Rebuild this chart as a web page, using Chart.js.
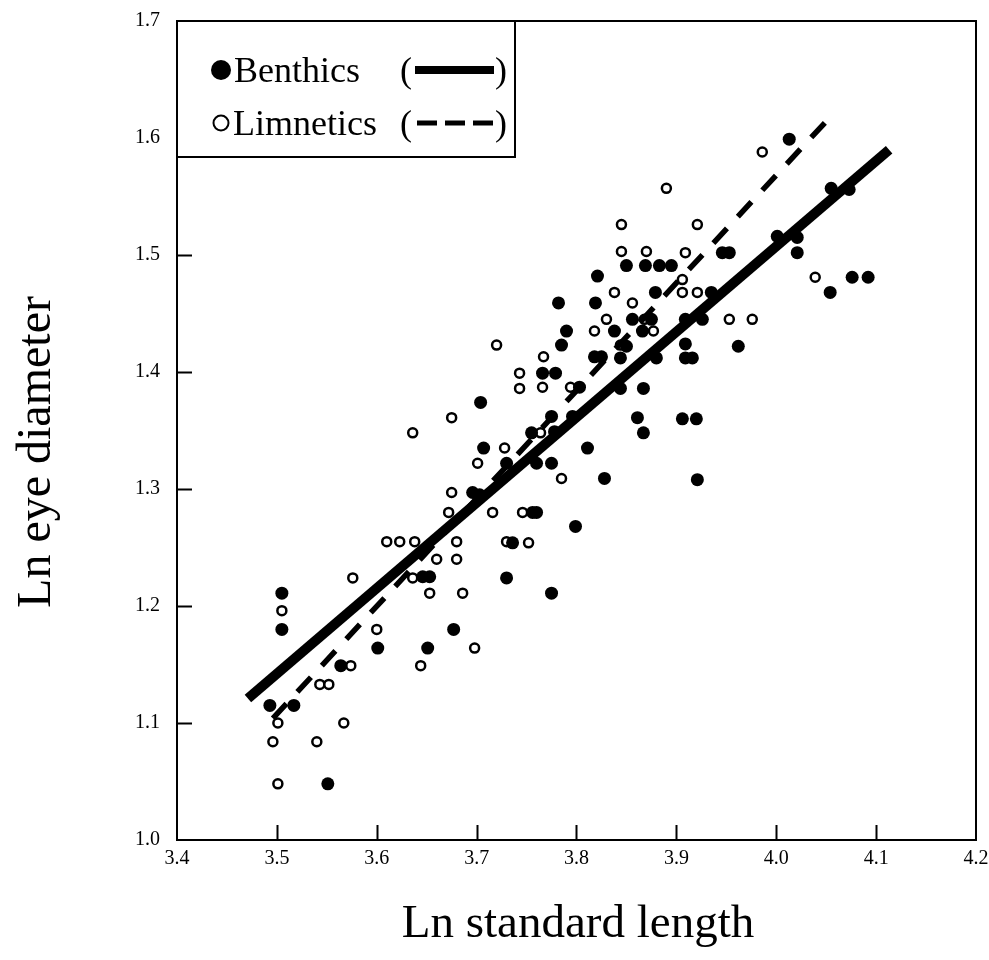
<!DOCTYPE html>
<html>
<head>
<meta charset="utf-8">
<script src="https://cdn.jsdelivr.net/npm/chart.js@4.4.1/dist/chart.umd.min.js"></script>
<style>
  html, body { margin: 0; padding: 0; background: #fff; }
  #wrap { width: 989px; height: 960px; }
</style>
</head>
<body>
<div id="wrap"><canvas id="myChart"></canvas></div>
<script>
// benthics (filled dots)
const benthicX = [3.505, 3.505, 3.601, 3.564, 3.493, 3.517, 3.551, 3.651, 3.677, 3.646,
  3.653, 3.704, 3.811, 3.707, 3.755, 3.730, 3.760, 3.775, 3.696, 3.703,
  3.756, 3.760, 3.799, 3.736, 3.730, 3.775, 3.821, 3.879, 3.935, 3.782,
  3.819, 3.856, 3.875, 3.909, 3.926, 3.790, 3.838, 3.866, 3.785, 3.850,
  3.909, 3.962, 3.818, 3.825, 3.844, 3.880, 3.909, 3.916, 3.766, 3.779,
  3.803, 3.844, 3.867, 3.775, 3.796, 3.861, 3.906, 3.920, 3.778, 3.867,
  3.828, 3.921, 4.013, 4.055, 4.073, 4.001, 4.021, 4.021, 3.946, 3.953,
  4.076, 4.092, 4.054, 3.850, 3.869, 3.883, 3.895];
const benthicY = [1.211, 1.180, 1.164, 1.149, 1.115, 1.115, 1.048, 1.164, 1.180, 1.225,
  1.225, 1.374, 1.335, 1.335, 1.348, 1.322, 1.322, 1.322, 1.297, 1.295,
  1.280, 1.280, 1.268, 1.254, 1.224, 1.211, 1.482, 1.468, 1.468, 1.459,
  1.459, 1.445, 1.445, 1.445, 1.445, 1.435, 1.435, 1.435, 1.423, 1.422,
  1.424, 1.422, 1.413, 1.413, 1.412, 1.412, 1.412, 1.412, 1.399, 1.399,
  1.387, 1.386, 1.386, 1.362, 1.362, 1.361, 1.360, 1.360, 1.349, 1.348,
  1.309, 1.308, 1.599, 1.557, 1.556, 1.516, 1.515, 1.502, 1.502, 1.502,
  1.481, 1.481, 1.468, 1.491, 1.491, 1.491, 1.491];

// limnetics (open circles)
const limneticX = [3.505, 3.576, 3.600, 3.574, 3.543, 3.552, 3.501, 3.567, 3.496, 3.540,
  3.501, 3.698, 3.644, 3.653, 3.686, 3.636, 3.675, 3.636, 3.728, 3.764,
  3.701, 3.785, 3.675, 3.672, 3.716, 3.746, 3.638, 3.623, 3.610, 3.680,
  3.730, 3.752, 3.660, 3.680, 3.838, 3.906, 3.921, 3.856, 3.830, 3.868,
  3.953, 3.976, 3.818, 3.877, 3.844, 3.767, 3.766, 3.794, 3.986, 3.921,
  3.909, 4.039, 3.890, 3.845, 3.845, 3.870, 3.906, 3.720, 3.743, 3.743];
const limneticY = [1.196, 1.224, 1.180, 1.149, 1.133, 1.133, 1.100, 1.100, 1.084, 1.084,
  1.048, 1.164, 1.149, 1.211, 1.211, 1.224, 1.361, 1.348, 1.335, 1.348,
  1.322, 1.309, 1.297, 1.280, 1.280, 1.280, 1.255, 1.255, 1.255, 1.255,
  1.255, 1.254, 1.240, 1.240, 1.468, 1.468, 1.468, 1.459, 1.445, 1.445,
  1.445, 1.445, 1.435, 1.435, 1.423, 1.413, 1.387, 1.387, 1.588, 1.526,
  1.502, 1.481, 1.557, 1.526, 1.503, 1.503, 1.479, 1.423, 1.399, 1.386];

// regression lines (end points)
const benthicFitX = [3.471, 4.113];
const benthicFitY = [1.121, 1.590];
const limneticFitX = [3.496, 4.053];
const limneticFitY = [1.104, 1.617];

const xTicks = [3.4, 3.5, 3.6, 3.7, 3.8, 3.9, 4.0, 4.1, 4.2];
const xTickLabels = ['3.4', '3.5', '3.6', '3.7', '3.8', '3.9', '4.0', '4.1', '4.2'];
const yTicks = [1.0, 1.1, 1.2, 1.3, 1.4, 1.5, 1.6, 1.7];
const yTickLabels = ['1.0', '1.1', '1.2', '1.3', '1.4', '1.5', '1.6', '1.7'];
const legendLabels = ['Benthics', 'Limnetics'];
const xTitle = 'Ln standard length';
const yTitle = 'Ln eye diameter';

const SERIF = "'Liberation Serif', 'Times New Roman', serif";

const toPoints = (xs, ys) => xs.map((x, i) => ({ x: x, y: ys[i] }));

// keep the plot box where the reference has it
const noPad = (scale) => {
  scale.paddingTop = 0;
  scale.paddingBottom = 0;
  scale.paddingLeft = 0;
  scale.paddingRight = 0;
};

// frame, inner ticks, legend box and axis titles
const framePlugin = {
  id: 'frame',
  afterDraw(chart) {
    const ctx = chart.ctx;
    const area = chart.chartArea;
    const xs = chart.scales.x;
    const ys = chart.scales.y;
    ctx.save();
    ctx.strokeStyle = '#000';
    ctx.lineWidth = 2;
    ctx.strokeRect(area.left, area.top, area.right - area.left, area.bottom - area.top);

    ctx.beginPath();
    xTicks.slice(1, -1).forEach(v => {
      const px = Math.round(xs.getPixelForValue(v)) + 0.5;
      ctx.moveTo(px, area.bottom);
      ctx.lineTo(px, area.bottom - 15);
    });
    yTicks.slice(1, -1).forEach(v => {
      const py = Math.round(ys.getPixelForValue(v)) + 0.5;
      ctx.moveTo(area.left, py);
      ctx.lineTo(area.left + 15, py);
    });
    ctx.stroke();

    // legend
    const lx = area.left, ly = area.top;
    ctx.fillStyle = '#fff';
    ctx.fillRect(lx, ly, 338, 136);
    ctx.lineWidth = 2;
    ctx.strokeRect(lx, ly, 338, 136);
    ctx.fillStyle = '#000';
    ctx.font = '36px ' + SERIF;
    ctx.textBaseline = 'alphabetic';
    ctx.textAlign = 'left';

    ctx.beginPath();
    ctx.arc(221, 70, 10, 0, Math.PI * 2);
    ctx.fill();
    ctx.fillText(legendLabels[0], 234, 82);
    ctx.fillText('(', 400, 82);
    ctx.fillText(')', 495, 82);
    ctx.lineWidth = 8;
    ctx.beginPath();
    ctx.moveTo(415, 70);
    ctx.lineTo(494, 70);
    ctx.stroke();

    ctx.lineWidth = 2;
    ctx.beginPath();
    ctx.arc(221, 123, 7.5, 0, Math.PI * 2);
    ctx.stroke();
    ctx.fillText(legendLabels[1], 233, 135);
    ctx.fillText('(', 400, 135);
    ctx.fillText(')', 495, 135);
    ctx.lineWidth = 5;
    ctx.setLineDash([20, 8]);
    ctx.beginPath();
    ctx.moveTo(417, 123);
    ctx.lineTo(494, 123);
    ctx.stroke();
    ctx.setLineDash([]);

    // axis titles
    ctx.textAlign = 'center';
    ctx.textBaseline = 'middle';
    ctx.font = '47px ' + SERIF;
    ctx.fillText(xTitle, 578, 925);
    ctx.translate(37, 452);
    ctx.rotate(-Math.PI / 2);
    ctx.font = '48px ' + SERIF;
    ctx.fillText(yTitle, 0, 0);
    ctx.restore();
  }
};

const ctx = document.getElementById('myChart').getContext('2d');

const myChart = new Chart(ctx, {
  type: 'scatter',
  data: {
    datasets: [
      {
        label: 'Benthics fit',
        data: toPoints(benthicFitX, benthicFitY),
        showLine: true,
        borderColor: '#000',
        borderWidth: 10,
        pointRadius: 0,
        order: 0
      },
      {
        label: 'Limnetics fit',
        data: toPoints(limneticFitX, limneticFitY),
        showLine: true,
        borderColor: '#000',
        borderWidth: 5.5,
        borderDash: [20, 16],
        pointRadius: 0,
        order: 0
      },
      {
        label: 'Benthics',
        data: toPoints(benthicX, benthicY),
        backgroundColor: '#000',
        borderWidth: 0,
        pointRadius: 6.5,
        order: 1
      },
      {
        label: 'Limnetics',
        data: toPoints(limneticX, limneticY),
        backgroundColor: '#fff',
        borderColor: '#000',
        borderWidth: 2.5,
        pointRadius: 4.5,
        order: 2
      }
    ]
  },
  options: {
    responsive: true,
    maintainAspectRatio: false,
    animation: false,
    layout: { padding: { top: 21, right: 13, left: 0, bottom: 0 } },
    plugins: {
      legend: { display: false },
      tooltip: { enabled: false }
    },
    scales: {
      x: {
        type: 'linear',
        min: 3.4,
        max: 4.2,
        afterBuildTicks: (scale) => { scale.ticks = xTicks.map(v => ({ value: v })); },
        afterFit: (scale) => { scale.height = 120; noPad(scale); },
        grid: { display: false, drawTicks: false },
        border: { display: false },
        ticks: {
          padding: 7,
          color: '#000',
          font: { family: SERIF, size: 20 },
          maxRotation: 0,
          autoSkip: false,
          callback: (value, index) => xTickLabels[index]
        }
      },
      y: {
        type: 'linear',
        min: 1.0,
        max: 1.7,
        afterBuildTicks: (scale) => { scale.ticks = yTicks.map(v => ({ value: v })); },
        afterFit: (scale) => { scale.width = 177; noPad(scale); },
        grid: { display: false, drawTicks: false },
        border: { display: false },
        ticks: {
          padding: 17,
          color: '#000',
          font: { family: SERIF, size: 20 },
          autoSkip: false,
          callback: (value, index) => yTickLabels[index]
        }
      }
    }
  },
  plugins: [framePlugin]
});
</script>
</body>
</html>
